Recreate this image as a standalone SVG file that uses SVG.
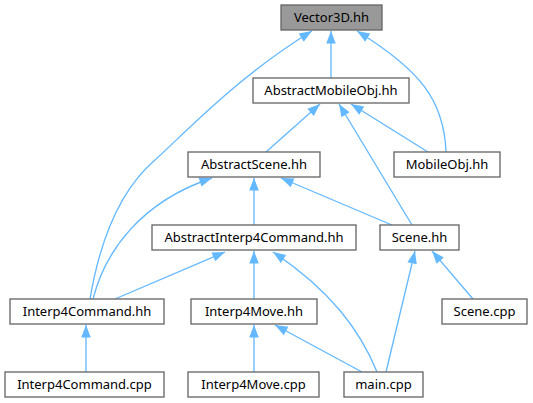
<svg xmlns="http://www.w3.org/2000/svg" width="533" height="403" viewBox="0 0 533 403">
<style>
.node rect{fill:#ffffff;stroke:#666666;stroke-width:1.33}
.node.main rect{fill:#999999}
.node text{font-family:"Noto Sans","DejaVu Sans",sans-serif;font-size:13px;fill:#000000;text-anchor:middle}
.edges path{fill:none;stroke:#63b8ff;stroke-width:1.33;marker-end:url(#arr)}
</style>
<defs>
<marker id="arr" markerUnits="userSpaceOnUse" markerWidth="14" markerHeight="11" refX="12.6" refY="4.8" orient="auto" overflow="visible">
<path d="M0,0 L12.6,4.8 L0,9.6 z" fill="#63b8ff"/>
</marker>
</defs>
<rect width="533" height="403" fill="#ffffff"/>
<g class="edges">
<path d="M331,78 L331,31"/>
<path d="M90,299 C100,240 120,190 155,160 C190,128 240,75 312,31"/>
<path d="M446,152 C444,100 420,70 357,31"/>
<path d="M266,152 L320,104"/>
<path d="M428,152 L351,104"/>
<path d="M412,225 L339,104"/>
<path d="M254,225 L254,178"/>
<path d="M93,299 C105,252 140,202 212,178"/>
<path d="M392,225 L281,178"/>
<path d="M115,299 L225,252"/>
<path d="M254,299 L254,251"/>
<path d="M377,372 C360,330 330,290 273,252"/>
<path d="M386,372 L415,251"/>
<path d="M473,299 L432,251"/>
<path d="M86,372 L86,325"/>
<path d="M254,372 L254,325"/>
<path d="M362,372 L275,325"/>
</g>
<g id="node_vector3d" class="node main"><rect x="281" y="5" width="101" height="25"/><text x="331.5" y="22">Vector3D.hh</text></g>
<g id="node_abstractmobileobj" class="node"><rect x="253" y="78" width="156" height="25"/><text x="331" y="95">AbstractMobileObj.hh</text></g>
<g id="node_abstractscene" class="node"><rect x="188" y="152" width="132" height="25"/><text x="254" y="169">AbstractScene.hh</text></g>
<g id="node_mobileobj" class="node"><rect x="394" y="152" width="106" height="25"/><text x="447" y="169">MobileObj.hh</text></g>
<g id="node_abstractinterp4command" class="node"><rect x="152" y="225" width="204" height="25"/><text x="254" y="242">AbstractInterp4Command.hh</text></g>
<g id="node_scene_hh" class="node"><rect x="380" y="225" width="79" height="25"/><text x="419.5" y="242">Scene.hh</text></g>
<g id="node_interp4command_hh" class="node"><rect x="10" y="299" width="154" height="25"/><text x="87" y="316">Interp4Command.hh</text></g>
<g id="node_interp4move_hh" class="node"><rect x="191" y="299" width="126" height="25"/><text x="254" y="316">Interp4Move.hh</text></g>
<g id="node_scene_cpp" class="node"><rect x="442" y="299" width="85" height="25"/><text x="484.5" y="316">Scene.cpp</text></g>
<g id="node_interp4command_cpp" class="node"><rect x="5" y="372" width="159" height="25"/><text x="84.5" y="389">Interp4Command.cpp</text></g>
<g id="node_interp4move_cpp" class="node"><rect x="188" y="372" width="131" height="25"/><text x="253.5" y="389">Interp4Move.cpp</text></g>
<g id="node_main_cpp" class="node"><rect x="344" y="372" width="79" height="25"/><text x="383.5" y="389">main.cpp</text></g>
</svg>
